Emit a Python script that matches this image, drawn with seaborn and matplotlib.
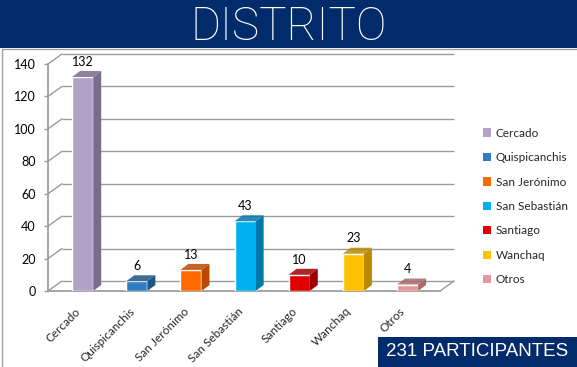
import matplotlib
matplotlib.use("Agg")
import matplotlib.pyplot as plt
import matplotlib.patches as mpatches
import matplotlib.transforms as mtransforms
import seaborn as sns
import pandas as pd
import numpy as np

categories = ["Cercado", "Quispicanchis", "San Jerónimo", "San Sebastián", "Santiago", "Wanchaq", "Otros"]
values = [132, 6, 13, 43, 10, 23, 4]
colors = ["#B3A2C7", "#2E7EC1", "#FF6A00", "#00B0F0", "#E00000", "#FFC000", "#E6979A"]
side_colors = ["#7D6A8F", "#1B5585", "#B84A00", "#0079A8", "#9C0000", "#B88A00", "#A86A6C"]
yticks = [0, 20, 40, 60, 80, 100, 120, 140]
title = "DISTRITO"
footer = "231 PARTICIPANTES"

df = pd.DataFrame({"distrito": categories, "n": values})

sns.set_theme(style="white")
plt.rcParams["font.family"] = ["Lato", "DejaVu Sans"]

W, H = 577, 367
fig = plt.figure(figsize=(W / 100, H / 100), dpi=100)
fig.patch.set_facecolor("white")

# title band
fig.patches.append(mpatches.Rectangle((0, 1 - 48 / H), 1, 48 / H, transform=fig.transFigure,
                                      facecolor="#022B6B", edgecolor="none", zorder=0))
fig.text(0.5, 1 - 40 / H, title, ha="center", va="baseline", color="white",
         fontsize=33, family=["Roboto", "DejaVu Sans"], fontweight="light")
# chart frame
fig.patches.append(mpatches.Rectangle((2 / W, -0.01), 1.1, (H - 49) / H + 0.01, transform=fig.transFigure,
                                      facecolor="none", edgecolor="#A0A0A0", lw=1.0, zorder=0))

ax = fig.add_axes([48 / W, 1 - 291 / H, (440 - 48) / W, (291 - 64) / H])
sns.barplot(data=df, x="distrito", y="n", hue="distrito", palette=colors, width=0.39,
            dodge=False, legend=False, ax=ax, saturation=1, zorder=3)
xlim = (-0.64, 6.6)
ax.set_xlim(*xlim)
ax.set_ylim(0, 140)
ax.set_yticks(yticks)
ax.set_xlabel("")
ax.set_ylabel("")
ax.tick_params(axis="y", labelsize=9, length=3, width=1, color="#9A9A9A", direction="out",
               pad=6, labelcolor="black", left=True)
ax.tick_params(axis="x", labelsize=8.5, length=0, pad=9)
lab_off = mtransforms.ScaledTranslation(-8 / 100, -2 / 100, fig.dpi_scale_trans)
for lab in ax.get_xticklabels():
    lab.set_rotation(45)
    lab.set_ha("right")
    lab.set_va("top")
    lab.set_rotation_mode("anchor")
    lab.set_transform(lab.get_transform() + lab_off)
for s in ["top", "right"]:
    ax.spines[s].set_visible(False)
ax.spines["left"].set_color("#9A9A9A")
ax.spines["bottom"].set_color("#9A9A9A")
ax.patch.set_alpha(0)

# pseudo-3D back wall (offset gridlines)
off = mtransforms.ScaledTranslation(14 / 100, 10 / 100, fig.dpi_scale_trans)
wall = ax.transData + off
ax.hlines(yticks, xlim[0], xlim[1], colors="#9A9A9A", lw=1.0, transform=wall, zorder=1, clip_on=False)
for y in yticks:
    ax.annotate("", xy=(xlim[0], y), xycoords=wall, xytext=(xlim[0], y), textcoords="data",
                arrowprops=dict(arrowstyle="-", color="#9A9A9A", lw=1.0, shrinkA=0, shrinkB=0))
ax.annotate("", xy=(xlim[1], 0), xycoords=wall, xytext=(xlim[1], 0), textcoords="data",
            arrowprops=dict(arrowstyle="-", color="#9A9A9A", lw=1.0, shrinkA=0, shrinkB=0))

# pseudo-3D depth faces on bars
ppx = (xlim[1] - xlim[0]) / (440 - 48)
ppy = 140 / (291 - 64)
dx, dy = 8 * ppx, 6 * ppy
for i, p in enumerate(ax.patches[:len(values)]):
    x0 = p.get_x(); w = p.get_width(); h = p.get_height()
    x1 = x0 + w
    side = mpatches.Polygon([(x1, 0), (x1 + dx, dy), (x1 + dx, h + dy), (x1, h)], closed=True,
                            facecolor=side_colors[i], edgecolor="none", zorder=3)
    top = mpatches.Polygon([(x0, h), (x1, h), (x1 + dx, h + dy), (x0 + dx, h + dy)], closed=True,
                           facecolor=side_colors[i], edgecolor="none", zorder=3, alpha=0.85)
    ax.add_patch(side); ax.add_patch(top)
    ax.text(x0 + w / 2, h + dy + 2.0, str(values[i]), ha="center", va="bottom",
            fontsize=9, color="black")

handles = [mpatches.Patch(facecolor=c, edgecolor="none") for c in colors]
fig.legend(handles, categories, loc="upper left", bbox_to_anchor=(472 / W, 1 - 117 / H),
           frameon=False, fontsize=8.5, handlelength=0.7, handleheight=0.7, handletextpad=0.4,
           labelspacing=1.14)

# footer band
fig.patches.append(mpatches.Rectangle((378 / W, 0), 1, 30 / H, transform=fig.transFigure,
                                      facecolor="#022B6B", edgecolor="none", zorder=5))
fig.text((378 + 577) / 2 / W, 15 / H, footer, ha="center", va="center", color="white",
         fontsize=13.5, zorder=6, family=["Liberation Sans", "DejaVu Sans"])

fig.savefig("out.png", dpi=100)
